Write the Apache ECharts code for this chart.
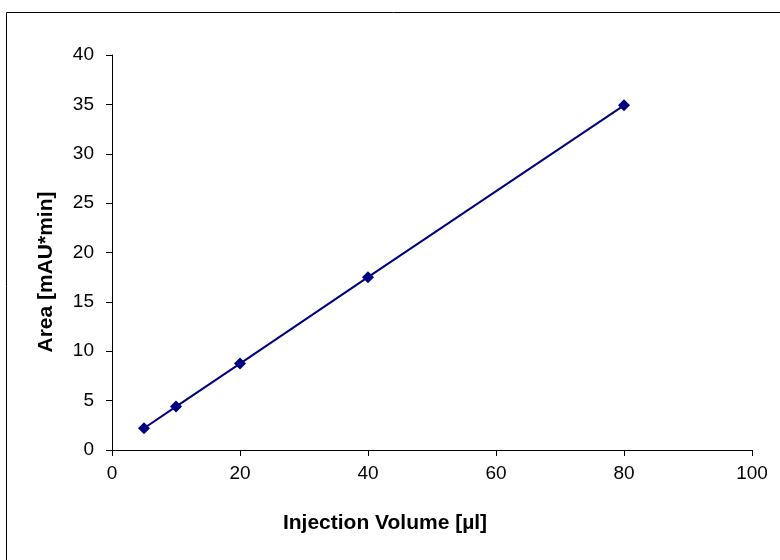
<!DOCTYPE html>
<html><head><meta charset="utf-8">
<script src="https://cdn.jsdelivr.net/npm/echarts@6/dist/echarts.min.js"></script>
<style>html,body{margin:0;padding:0;background:#fff}#c{width:780px;height:560px}</style>
</head><body><div id="c"></div>
<script>
const volumes = [5, 10, 20, 40, 80];
const areas = [2.2, 4.4, 8.75, 17.5, 34.9];
const xTitle = 'Injection Volume [µl]';
const yTitle = 'Area [mAU*min]';

const chart = echarts.init(document.getElementById('c'), null, {renderer: 'canvas'});
const font = 'Liberation Sans, Arial, sans-serif';
const titleStyle = {fontFamily: font, fontSize: 21, fontWeight: 'bold', fill: '#000', align: 'center', verticalAlign: 'middle'};
chart.setOption({
  animation: false,
  backgroundColor: '#fff',
  graphic: [{
    type: 'rect', shape: {x: 6.5, y: 12.5, width: 800, height: 600},
    style: {fill: 'none', stroke: '#000', lineWidth: 1}, silent: true
  }, {
    type: 'text', x: 385, y: 523,
    style: Object.assign({text: xTitle}, titleStyle), silent: true
  }, {
    type: 'text', x: 46, y: 272, rotation: Math.PI / 2,
    style: Object.assign({text: yTitle}, titleStyle), silent: true
  }],
  grid: {left: 112, right: 28, top: 55, bottom: 110, containLabel: false},
  xAxis: {
    type: 'value', min: 0, max: 100, interval: 20,
    axisLine: {show: true, onZero: false, lineStyle: {color: '#000', width: 1}},
    axisTick: {show: true, length: 6, inside: false, lineStyle: {color: '#000'}},
    axisLabel: {fontFamily: font, fontSize: 19, color: '#000', margin: 14},
    splitLine: {show: false}
  },
  yAxis: {
    type: 'value', min: 0, max: 40, interval: 5,
    axisLine: {show: true, lineStyle: {color: '#000', width: 1}},
    axisTick: {show: true, length: 6, inside: false, lineStyle: {color: '#000'}},
    axisLabel: {fontFamily: font, fontSize: 19, color: '#000', margin: 18},
    splitLine: {show: false}
  },
  series: [{
    type: 'line',
    data: volumes.map((v, i) => [v, areas[i]]),
    symbol: 'diamond', symbolSize: 12,
    lineStyle: {color: '#000080', width: 2},
    itemStyle: {color: '#000080'},
    z: 3
  }]
});
</script></body></html>
